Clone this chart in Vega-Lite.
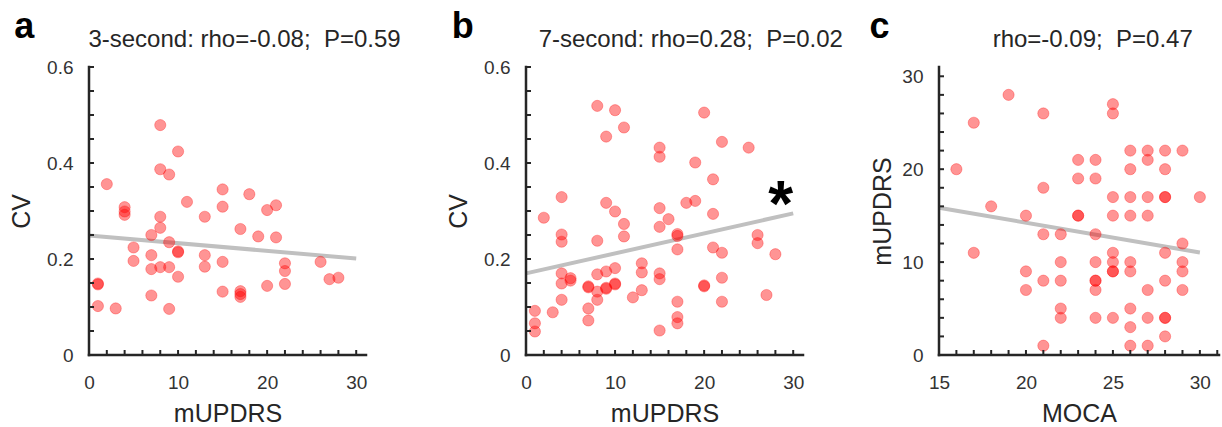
{
  "$schema": "https://vega.github.io/schema/vega-lite/v6.json",
  "autosize": {"type": "pad"},
  "padding": {"left": 9, "top": 9, "right": 0, "bottom": 0},
  "bounds": "flush",
  "spacing": 0,
  "datasets": {
    "a_pts": [
      {"x": 8, "y": 0.479}, {"x": 10, "y": 0.424}, {"x": 8, "y": 0.387}, {"x": 9, "y": 0.376}, {"x": 2, "y": 0.356},
      {"x": 15, "y": 0.345}, {"x": 18, "y": 0.335}, {"x": 11, "y": 0.319}, {"x": 21, "y": 0.312}, {"x": 20, "y": 0.302},
      {"x": 15, "y": 0.309}, {"x": 4, "y": 0.308}, {"x": 4, "y": 0.299}, {"x": 4, "y": 0.292}, {"x": 8, "y": 0.288},
      {"x": 13, "y": 0.288}, {"x": 8, "y": 0.265}, {"x": 17, "y": 0.2625}, {"x": 7, "y": 0.25}, {"x": 19, "y": 0.247},
      {"x": 21, "y": 0.245}, {"x": 9, "y": 0.235}, {"x": 5, "y": 0.224}, {"x": 7, "y": 0.208}, {"x": 10, "y": 0.216},
      {"x": 10, "y": 0.214}, {"x": 13, "y": 0.208}, {"x": 5, "y": 0.196}, {"x": 15, "y": 0.194}, {"x": 22, "y": 0.191},
      {"x": 26, "y": 0.194}, {"x": 7, "y": 0.179}, {"x": 8, "y": 0.183}, {"x": 9, "y": 0.183}, {"x": 13, "y": 0.184},
      {"x": 22, "y": 0.175}, {"x": 10, "y": 0.163}, {"x": 27, "y": 0.158}, {"x": 28, "y": 0.161}, {"x": 1, "y": 0.149},
      {"x": 1, "y": 0.147}, {"x": 15, "y": 0.132}, {"x": 17, "y": 0.133}, {"x": 17, "y": 0.127}, {"x": 17, "y": 0.121},
      {"x": 20, "y": 0.144}, {"x": 22, "y": 0.148}, {"x": 7, "y": 0.124}, {"x": 1, "y": 0.102}, {"x": 3, "y": 0.097},
      {"x": 9, "y": 0.096}
    ],
    "a_fit": [{"x": 0, "y": 0.249}, {"x": 30, "y": 0.201}],
    "b_pts": [
      {"x": 8, "y": 0.519}, {"x": 10, "y": 0.51}, {"x": 20, "y": 0.505}, {"x": 11, "y": 0.474}, {"x": 9, "y": 0.455},
      {"x": 22, "y": 0.444}, {"x": 15, "y": 0.432}, {"x": 15, "y": 0.413}, {"x": 25, "y": 0.432}, {"x": 19, "y": 0.401},
      {"x": 21, "y": 0.366}, {"x": 4, "y": 0.329}, {"x": 2, "y": 0.286}, {"x": 9, "y": 0.317}, {"x": 10, "y": 0.299},
      {"x": 18, "y": 0.317}, {"x": 19, "y": 0.321}, {"x": 15, "y": 0.306}, {"x": 16, "y": 0.283}, {"x": 11, "y": 0.273},
      {"x": 15, "y": 0.267}, {"x": 21, "y": 0.294}, {"x": 4, "y": 0.251}, {"x": 4, "y": 0.236}, {"x": 11, "y": 0.247},
      {"x": 8, "y": 0.238}, {"x": 17, "y": 0.252}, {"x": 17, "y": 0.248}, {"x": 17, "y": 0.22}, {"x": 26, "y": 0.25},
      {"x": 26, "y": 0.233}, {"x": 21, "y": 0.224}, {"x": 22, "y": 0.213}, {"x": 28, "y": 0.21}, {"x": 13, "y": 0.191},
      {"x": 13, "y": 0.172}, {"x": 10, "y": 0.181}, {"x": 9, "y": 0.174}, {"x": 8, "y": 0.168}, {"x": 4, "y": 0.17},
      {"x": 4, "y": 0.149}, {"x": 5, "y": 0.16}, {"x": 5, "y": 0.155}, {"x": 15, "y": 0.17}, {"x": 15, "y": 0.158},
      {"x": 22, "y": 0.161}, {"x": 7, "y": 0.143}, {"x": 7, "y": 0.141}, {"x": 8, "y": 0.132}, {"x": 9, "y": 0.14},
      {"x": 9, "y": 0.138}, {"x": 10, "y": 0.149}, {"x": 10, "y": 0.147}, {"x": 13, "y": 0.135}, {"x": 12, "y": 0.12},
      {"x": 8, "y": 0.115}, {"x": 4, "y": 0.115}, {"x": 20, "y": 0.145}, {"x": 20, "y": 0.143}, {"x": 27, "y": 0.125},
      {"x": 22, "y": 0.111}, {"x": 17, "y": 0.111}, {"x": 1, "y": 0.092}, {"x": 3, "y": 0.089}, {"x": 7, "y": 0.097},
      {"x": 7, "y": 0.072}, {"x": 1, "y": 0.066}, {"x": 1, "y": 0.049}, {"x": 17, "y": 0.079}, {"x": 17, "y": 0.066},
      {"x": 15, "y": 0.051}
    ],
    "b_fit": [{"x": 0, "y": 0.17}, {"x": 30, "y": 0.295}],
    "c_pts": [
      {"x": 19, "y": 28}, {"x": 17, "y": 25}, {"x": 21, "y": 26}, {"x": 25, "y": 27}, {"x": 25, "y": 26},
      {"x": 16, "y": 20}, {"x": 21, "y": 18}, {"x": 23, "y": 21}, {"x": 24, "y": 21}, {"x": 23, "y": 19},
      {"x": 24, "y": 19}, {"x": 26, "y": 22}, {"x": 27, "y": 22}, {"x": 27, "y": 21}, {"x": 28, "y": 22},
      {"x": 29, "y": 22}, {"x": 26, "y": 20}, {"x": 28, "y": 20},
      {"x": 25, "y": 17}, {"x": 26, "y": 17}, {"x": 27, "y": 17}, {"x": 28, "y": 17}, {"x": 28, "y": 17}, {"x": 30, "y": 17},
      {"x": 18, "y": 16},
      {"x": 20, "y": 15}, {"x": 23, "y": 15}, {"x": 23, "y": 15}, {"x": 25, "y": 15}, {"x": 26, "y": 15}, {"x": 27, "y": 15},
      {"x": 21, "y": 13}, {"x": 22, "y": 13}, {"x": 24, "y": 13},
      {"x": 29, "y": 12},
      {"x": 17, "y": 11}, {"x": 25, "y": 11}, {"x": 28, "y": 11},
      {"x": 22, "y": 10}, {"x": 24, "y": 10}, {"x": 25, "y": 10}, {"x": 26, "y": 10}, {"x": 29, "y": 10},
      {"x": 20, "y": 9}, {"x": 25, "y": 9}, {"x": 25, "y": 9}, {"x": 26, "y": 9}, {"x": 29, "y": 9},
      {"x": 21, "y": 8}, {"x": 22, "y": 8}, {"x": 24, "y": 8}, {"x": 24, "y": 8}, {"x": 28, "y": 8},
      {"x": 20, "y": 7}, {"x": 24, "y": 7}, {"x": 27, "y": 7}, {"x": 29, "y": 7},
      {"x": 22, "y": 5}, {"x": 26, "y": 5},
      {"x": 22, "y": 4}, {"x": 24, "y": 4}, {"x": 25, "y": 4}, {"x": 27, "y": 4}, {"x": 28, "y": 4}, {"x": 28, "y": 4},
      {"x": 26, "y": 3}, {"x": 28, "y": 2},
      {"x": 21, "y": 1}, {"x": 26, "y": 1}, {"x": 27, "y": 1}
    ],
    "c_fit": [{"x": 15, "y": 15.84}, {"x": 30, "y": 11.04}],
    "ab_dom": [
      {"seg": "x", "x": 0, "y": 0}, {"seg": "x", "x": 31.1, "y": 0},
      {"seg": "y", "x": 0, "y": 0}, {"seg": "y", "x": 0, "y": 0.6}
    ],
    "c_dom": [
      {"seg": "x", "x": 15, "y": 0}, {"seg": "x", "x": 31.1, "y": 0},
      {"seg": "y", "x": 15, "y": 0}, {"seg": "y", "x": 15, "y": 31}
    ],
    "ab_xt": [{"t": 0}, {"t": 2}, {"t": 4}, {"t": 6}, {"t": 8}, {"t": 10}, {"t": 12}, {"t": 14}, {"t": 16}, {"t": 18}, {"t": 20}, {"t": 22}, {"t": 24}, {"t": 26}, {"t": 28}, {"t": 30}],
    "ab_yt": [{"t": 0}, {"t": 0.05}, {"t": 0.1}, {"t": 0.15}, {"t": 0.2}, {"t": 0.25}, {"t": 0.3}, {"t": 0.35}, {"t": 0.4}, {"t": 0.45}, {"t": 0.5}, {"t": 0.55}, {"t": 0.6}],
    "c_xt": [{"t": 15}, {"t": 16}, {"t": 17}, {"t": 18}, {"t": 19}, {"t": 20}, {"t": 21}, {"t": 22}, {"t": 23}, {"t": 24}, {"t": 25}, {"t": 26}, {"t": 27}, {"t": 28}, {"t": 29}, {"t": 30}, {"t": 31}],
    "c_yt": [{"t": 0}, {"t": 2}, {"t": 4}, {"t": 6}, {"t": 8}, {"t": 10}, {"t": 12}, {"t": 14}, {"t": 16}, {"t": 18}, {"t": 20}, {"t": 22}, {"t": 24}, {"t": 26}, {"t": 28}, {"t": 30}],
    "a_txt": [{"letter": "a", "title": "3-second: rho=-0.08;\u00a0\u00a0P=0.59"}],
    "b_txt": [{"letter": "b", "title": "7-second: rho=0.28;\u00a0\u00a0P=0.02", "star": "*"}],
    "c_txt": [{"letter": "c", "title": "rho=-0.09;\u00a0\u00a0P=0.47"}],
    "empty": []
  },
  "hconcat": [
    {
      "width": 277,
      "height": 288,
      "layer": [
        {
          "data": {"name": "a_fit"},
          "mark": {"type": "line", "color": "#c0c0c0", "strokeWidth": 4},
          "encoding": {
            "x": {"field": "x", "type": "quantitative", "title": "mUPDRS",
              "scale": {"domain": [0, 31.1], "nice": false, "zero": false},
              "axis": {"labelPadding": 18, "titlePadding": 9, "tickCount": 100, "format": "d",
                "values": [0, 10, 20, 30], "labelExpr": "format(datum.value, 'd')"}},
            "y": {"field": "y", "type": "quantitative", "title": "CV",
              "scale": {"domain": [0, 0.6], "nice": false, "zero": false},
              "axis": {"labelPadding": 16, "titlePadding": 12, "tickCount": 100,
                "values": [0, 0.2, 0.4, 0.6], "labelExpr": "datum.value == 0 ? '0' : format(datum.value, '.1f')"}}
          }
        },
        {
          "data": {"name": "a_pts"},
          "mark": {"type": "circle", "size": 125, "fill": "#ff0000", "fillOpacity": 0.42, "stroke": "#ff0000", "strokeOpacity": 0.3, "strokeWidth": 1},
          "encoding": {"x": {"field": "x", "type": "quantitative"}, "y": {"field": "y", "type": "quantitative"}}
        },
        {
          "data": {"name": "ab_dom"},
          "mark": {"type": "line", "color": "#262626", "strokeWidth": 2.5, "strokeCap": "square"},
          "encoding": {"x": {"field": "x", "type": "quantitative"}, "y": {"field": "y", "type": "quantitative"}, "detail": {"field": "seg"}}
        },
        {
          "data": {"name": "ab_xt"},
          "mark": {"type": "tick", "orient": "vertical", "size": 5, "thickness": 2, "color": "#262626", "opacity": 1, "yOffset": -2.5},
          "encoding": {"x": {"field": "t", "type": "quantitative"}, "y": {"datum": 0}}
        },
        {
          "data": {"name": "ab_yt"},
          "mark": {"type": "tick", "orient": "horizontal", "size": 5, "thickness": 2, "color": "#262626", "opacity": 1, "xOffset": 2.5},
          "encoding": {"y": {"field": "t", "type": "quantitative"}, "x": {"datum": 0}}
        },
        {
          "data": {"name": "a_txt"},
          "mark": {"type": "text", "fontSize": 36, "fontWeight": "bold", "font": "Liberation Sans", "align": "left", "baseline": "alphabetic", "color": "#000000"},
          "encoding": {"x": {"datum": -8.4}, "y": {"datum": 0.66}, "text": {"field": "letter"}}
        },
        {
          "data": {"name": "a_txt"},
          "mark": {"type": "text", "fontSize": 24, "font": "Liberation Sans", "align": "center", "baseline": "alphabetic", "color": "#262626"},
          "encoding": {"x": {"datum": 17.46}, "y": {"datum": 0.6417}, "text": {"field": "title"}}
        }
      ]
    },
    {
      "width": 160,
      "height": 288,
      "data": {"name": "empty"},
      "mark": {"type": "point", "opacity": 0},
      "encoding": {}
    },
    {
      "width": 277,
      "height": 288,
      "layer": [
        {
          "data": {"name": "b_fit"},
          "mark": {"type": "line", "color": "#c0c0c0", "strokeWidth": 4},
          "encoding": {
            "x": {"field": "x", "type": "quantitative", "title": "mUPDRS",
              "scale": {"domain": [0, 31.1], "nice": false, "zero": false},
              "axis": {"labelPadding": 18, "titlePadding": 9, "tickCount": 100, "format": "d",
                "values": [0, 10, 20, 30], "labelExpr": "format(datum.value, 'd')"}},
            "y": {"field": "y", "type": "quantitative", "title": "CV",
              "scale": {"domain": [0, 0.6], "nice": false, "zero": false},
              "axis": {"labelPadding": 16, "titlePadding": 12, "tickCount": 100,
                "values": [0, 0.2, 0.4, 0.6], "labelExpr": "datum.value == 0 ? '0' : format(datum.value, '.1f')"}}
          }
        },
        {
          "data": {"name": "b_pts"},
          "mark": {"type": "circle", "size": 125, "fill": "#ff0000", "fillOpacity": 0.42, "stroke": "#ff0000", "strokeOpacity": 0.3, "strokeWidth": 1},
          "encoding": {"x": {"field": "x", "type": "quantitative"}, "y": {"field": "y", "type": "quantitative"}}
        },
        {
          "data": {"name": "ab_dom"},
          "mark": {"type": "line", "color": "#262626", "strokeWidth": 2.5, "strokeCap": "square"},
          "encoding": {"x": {"field": "x", "type": "quantitative"}, "y": {"field": "y", "type": "quantitative"}, "detail": {"field": "seg"}}
        },
        {
          "data": {"name": "ab_xt"},
          "mark": {"type": "tick", "orient": "vertical", "size": 5, "thickness": 2, "color": "#262626", "opacity": 1, "yOffset": -2.5},
          "encoding": {"x": {"field": "t", "type": "quantitative"}, "y": {"datum": 0}}
        },
        {
          "data": {"name": "ab_yt"},
          "mark": {"type": "tick", "orient": "horizontal", "size": 5, "thickness": 2, "color": "#262626", "opacity": 1, "xOffset": 2.5},
          "encoding": {"y": {"field": "t", "type": "quantitative"}, "x": {"datum": 0}}
        },
        {
          "data": {"name": "b_txt"},
          "mark": {"type": "text", "fontSize": 36, "fontWeight": "bold", "font": "Liberation Sans", "align": "left", "baseline": "alphabetic", "color": "#000000"},
          "encoding": {"x": {"datum": -8.34}, "y": {"datum": 0.66}, "text": {"field": "letter"}}
        },
        {
          "data": {"name": "b_txt"},
          "mark": {"type": "text", "fontSize": 24, "font": "Liberation Sans", "align": "center", "baseline": "alphabetic", "color": "#262626"},
          "encoding": {"x": {"datum": 18.5}, "y": {"datum": 0.6417}, "text": {"field": "title"}}
        },
        {
          "data": {"name": "b_txt"},
          "mark": {"type": "text", "fontSize": 64, "fontWeight": "bold", "font": "Liberation Sans", "align": "center", "baseline": "alphabetic", "color": "#000000"},
          "encoding": {"x": {"datum": 28.6}, "y": {"datum": 0.268}, "text": {"field": "star"}}
        }
      ]
    },
    {
      "width": 136,
      "height": 288,
      "data": {"name": "empty"},
      "mark": {"type": "point", "opacity": 0},
      "encoding": {}
    },
    {
      "width": 280,
      "height": 288,
      "layer": [
        {
          "data": {"name": "c_fit"},
          "mark": {"type": "line", "color": "#c0c0c0", "strokeWidth": 4},
          "encoding": {
            "x": {"field": "x", "type": "quantitative", "title": "MOCA",
              "scale": {"domain": [15, 31.1], "nice": false, "zero": false},
              "axis": {"labelPadding": 18, "titlePadding": 9, "tickCount": 100, "format": "d",
                "values": [15, 20, 25, 30], "labelExpr": "format(datum.value, 'd')"}},
            "y": {"field": "y", "type": "quantitative", "title": "mUPDRS",
              "scale": {"domain": [0, 31], "nice": false, "zero": false},
              "axis": {"labelPadding": 16, "titlePadding": 6, "tickCount": 100, "format": "d",
                "values": [0, 10, 20, 30], "labelExpr": "format(datum.value, 'd')"}}
          }
        },
        {
          "data": {"name": "c_pts"},
          "mark": {"type": "circle", "size": 125, "fill": "#ff0000", "fillOpacity": 0.42, "stroke": "#ff0000", "strokeOpacity": 0.3, "strokeWidth": 1},
          "encoding": {"x": {"field": "x", "type": "quantitative"}, "y": {"field": "y", "type": "quantitative"}}
        },
        {
          "data": {"name": "c_dom"},
          "mark": {"type": "line", "color": "#262626", "strokeWidth": 2.5, "strokeCap": "square"},
          "encoding": {"x": {"field": "x", "type": "quantitative"}, "y": {"field": "y", "type": "quantitative"}, "detail": {"field": "seg"}}
        },
        {
          "data": {"name": "c_xt"},
          "mark": {"type": "tick", "orient": "vertical", "size": 5, "thickness": 2, "color": "#262626", "opacity": 1, "yOffset": -2.5},
          "encoding": {"x": {"field": "t", "type": "quantitative"}, "y": {"datum": 0}}
        },
        {
          "data": {"name": "c_yt"},
          "mark": {"type": "tick", "orient": "horizontal", "size": 5, "thickness": 2, "color": "#262626", "opacity": 1, "xOffset": 2.5},
          "encoding": {"y": {"field": "t", "type": "quantitative"}, "x": {"datum": 15}}
        },
        {
          "data": {"name": "c_txt"},
          "mark": {"type": "text", "fontSize": 36, "fontWeight": "bold", "font": "Liberation Sans", "align": "left", "baseline": "alphabetic", "color": "#000000"},
          "encoding": {"x": {"datum": 11.0}, "y": {"datum": 34.1}, "text": {"field": "letter"}}
        },
        {
          "data": {"name": "c_txt"},
          "mark": {"type": "text", "fontSize": 24, "font": "Liberation Sans", "align": "center", "baseline": "alphabetic", "color": "#262626"},
          "encoding": {"x": {"datum": 23.84}, "y": {"datum": 33.15}, "text": {"field": "title"}}
        }
      ]
    }
  ],
  "config": {
    "view": {"stroke": null},
    "axis": {
      "grid": false,
      "domain": false,
      "ticks": false,
      "labelOverlap": false,
      "labelFlush": false,
      "labelFont": "Liberation Sans",
      "labelFontSize": 19,
      "labelColor": "#333333",
      "titleFont": "Liberation Sans",
      "titleFontSize": 25,
      "titleFontWeight": "normal",
      "titleColor": "#262626"
    }
  }
}
